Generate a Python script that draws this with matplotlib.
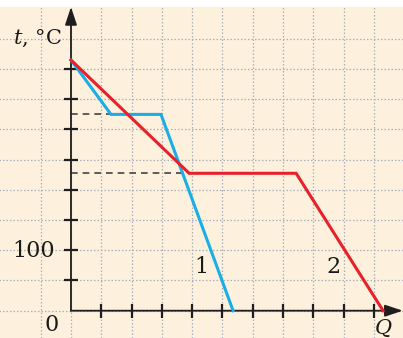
import matplotlib
matplotlib.use("Agg")
import matplotlib.pyplot as plt
from matplotlib.patches import Rectangle

plt.rcParams["font.family"] = "DejaVu Serif"
plt.rcParams["mathtext.fontset"] = "dejavuserif"

# curve 1 (blue) and curve 2 (red): Q in grid units, t in °C
q1 = [0, 1.32, 2.97, 5.35]
t1 = [415, 325, 325, 0]
q2 = [0, 3.9, 7.43, 10.3]
t2 = [415, 227.5, 227.5, 0]

x_ticks = list(range(1, 11))
y_ticks = list(range(50, 401, 50))
x_grid = list(range(-1, 11))
y_grid = list(range(0, 451, 50))

cream = "#fdf0dd"
grid_col = "#abafba"
axis_col = "#1e1e1e"

fig = plt.figure(figsize=(4.03, 3.38), dpi=100)
ax = fig.add_axes([0, 0, 1, 1])
ax.set_xlim(-2.343, 10.957)
ax.set_ylim(-45.2, 514.4)
ax.axis("off")
ax.add_patch(Rectangle((0, 0), 1, 331 / 338, transform=ax.transAxes,
                       color=cream, zorder=0))

# dotted grid
for x in x_grid:
    ax.plot([x, x], [-46, 502.8], color=grid_col, lw=0.9, ls=(0, (1.2, 1.6)), zorder=1)
for y in y_grid:
    ax.plot([-2.4, 11], [y, y], color=grid_col, lw=0.9, ls=(0, (1.2, 1.6)), zorder=1)

# axes with arrows
arrow = dict(arrowstyle="-|>,head_length=0.6,head_width=0.2", color=axis_col,
             lw=1.3, shrinkA=0, shrinkB=0, mutation_scale=18)
ax.annotate("", xy=(0, 502.8), xytext=(0, 0), arrowprops=arrow, zorder=3)
ax.annotate("", xy=(10.95, 0), xytext=(0, 0), arrowprops=arrow, zorder=3)
ax.plot([0] * len(y_ticks), y_ticks, ls="none", marker="_", ms=9.5, mew=1.6,
        color=axis_col, zorder=3)
ax.plot(x_ticks, [0] * len(x_ticks), ls="none", marker="|", ms=9.5, mew=1.6,
        color=axis_col, zorder=3)

# dashed helpers to plateaus
ax.plot([0, q1[1]], [t1[1], t1[1]], color="#444444", lw=1.2, ls=(0, (4, 3)), zorder=2)
ax.plot([0, q2[1]], [t2[1], t2[1]], color="#444444", lw=1.2, ls=(0, (4, 3)), zorder=2)

ax.plot(q1, t1, color="#1aaee6", lw=2.2, zorder=4, solid_joinstyle="miter")
ax.plot(q2, t2, color="#e8202a", lw=2.2, zorder=5, solid_joinstyle="miter")

txt = "#1a1a1a"
ax.text(-1.93, 441, r"$t$, °C", fontsize=15, ha="left", va="baseline", color=txt)
ax.text(-0.53, 99, "100", fontsize=16, ha="right", va="center", color=txt)
ax.text(-0.63, -24, "0", fontsize=16, ha="center", va="center", color=txt)
ax.text(4.29, 72, "1", fontsize=16, ha="center", va="center", color=txt)
ax.text(8.65, 72, "2", fontsize=16, ha="center", va="center", color=txt)
ax.text(10.3, -11, r"$Q$", fontsize=15, ha="center", va="top", color=txt)

fig.savefig("out.png", dpi=100)
